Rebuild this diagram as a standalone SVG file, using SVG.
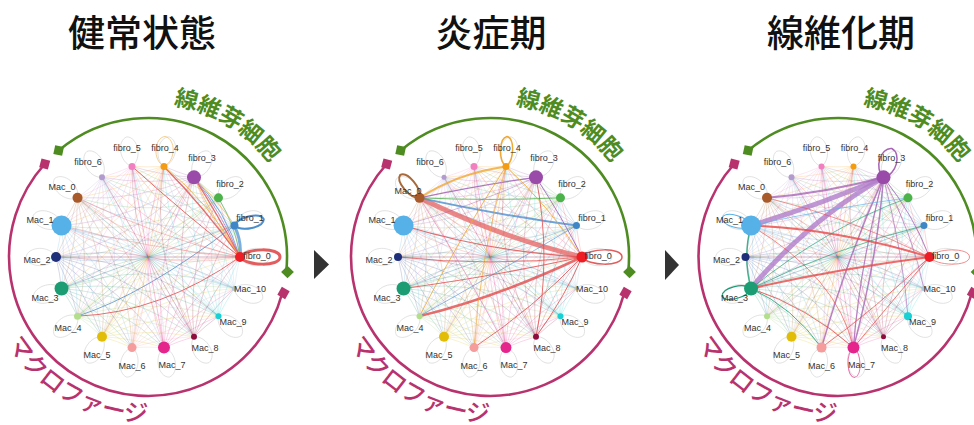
<svg xmlns="http://www.w3.org/2000/svg" xmlns:xlink="http://www.w3.org/1999/xlink" width="974" height="425" viewBox="0 0 974 425">
<style>
.title{font-family:"Noto Sans CJK JP","Noto Sans",sans-serif;font-size:37px;font-weight:500;fill:#111;text-anchor:middle}
.lbl{font-family:"Liberation Sans",Arial,sans-serif;font-size:9px;fill:#333;text-anchor:middle}
.grp-g{font-family:"Noto Sans CJK JP",sans-serif;font-size:23px;font-weight:700;fill:#4e8c22}
.grp-m{font-family:"Noto Sans CJK JP",sans-serif;font-size:24px;font-weight:500;fill:#b8336e}
.arc-g{fill:none;stroke:#4e8c22;stroke-width:2.6}
.arc-m{fill:none;stroke:#b8336e;stroke-width:2.6}
.floop{fill:none;stroke:#d2d2d2;stroke-width:0.6}
.hl{fill:none;stroke-linecap:round}
.hloop{fill:none}
</style>
<defs>
<g id="fan" fill="none" stroke-width="0.7" stroke-opacity="0.26">
<path d="M92,0 A260,260 0 0 1 86.45,-31.47"/>
<path d="M92,0 A260,260 0 0 1 70.48,-59.14"/>
<path d="M92,0 A260,260 0 0 1 46,-79.67"/>
<path d="M92,0 A260,260 0 0 1 15.98,-90.6"/>
<path d="M92,0 A260,260 0 0 1 -15.98,-90.6"/>
<path d="M92,0 A260,260 0 0 1 -46,-79.67"/>
<path d="M92,0 A260,260 0 0 1 -70.48,-59.14"/>
<path d="M92,0 A260,260 0 0 1 -86.45,-31.47"/>
<path d="M92,0 L-92,0"/>
</g>
<path id="loopS" d="M92,0 C98,-12 120,-11 122,0 C120,11 98,12 92,0"/>
<path id="loopN" d="M92,0 C98,-8 120,-8 122,0 C120,8 98,8 92,0"/>
<path id="loopB" d="M92,0 C98,-9 132,-10 132,0 C132,10 98,9 92,0"/>
<rect id="sq" x="-4.5" y="-4.5" width="9" height="9"/>
<path id="tp-g" d="M25.4,-151.9 A154,154 0 0 1 133.4,-77"/>
<path id="tp-m" d="M-140.7,86.2 A165,165 0 0 0 82.5,142.9"/>
<g id="faint-loops" class="floop">
<use href="#loopS"/><use href="#loopS" transform="rotate(-20)"/><use href="#loopS" transform="rotate(-40)"/><use href="#loopS" transform="rotate(-60)"/><use href="#loopS" transform="rotate(-80)"/><use href="#loopS" transform="rotate(-100)"/><use href="#loopS" transform="rotate(-120)"/><use href="#loopS" transform="rotate(-140)"/><use href="#loopS" transform="rotate(-160)"/><use href="#loopS" transform="rotate(-180)"/><use href="#loopS" transform="rotate(-200)"/><use href="#loopS" transform="rotate(-220)"/><use href="#loopS" transform="rotate(-240)"/><use href="#loopS" transform="rotate(-260)"/><use href="#loopS" transform="rotate(-280)"/><use href="#loopS" transform="rotate(-300)"/><use href="#loopS" transform="rotate(-320)"/><use href="#loopS" transform="rotate(-340)"/>
</g>
<g id="all-fans">
<use href="#fan" stroke="#ee1c25"/>
<use href="#fan" transform="rotate(-20)" stroke="#3f86c6"/>
<use href="#fan" transform="rotate(-40)" stroke="#4cb24a"/>
<use href="#fan" transform="rotate(-60)" stroke="#9a4aa8"/>
<use href="#fan" transform="rotate(-80)" stroke="#f39b12"/>
<use href="#fan" transform="rotate(-100)" stroke="#f27fc0"/>
<use href="#fan" transform="rotate(-120)" stroke="#b39bd0"/>
<use href="#fan" transform="rotate(-140)" stroke="#a85a2a"/>
<use href="#fan" transform="rotate(-160)" stroke="#56b1e8"/>
<use href="#fan" transform="rotate(-180)" stroke="#1f2e78"/>
<use href="#fan" transform="rotate(-200)" stroke="#1c9c72"/>
<use href="#fan" transform="rotate(-220)" stroke="#9acb70"/>
<use href="#fan" transform="rotate(-240)" stroke="#e2bd07"/>
<use href="#fan" transform="rotate(-260)" stroke="#f59c9c"/>
<use href="#fan" transform="rotate(-280)" stroke="#e5258c"/>
<use href="#fan" transform="rotate(-300)" stroke="#8e0b3e"/>
<use href="#fan" transform="rotate(-320)" stroke="#19d0d4"/>
<use href="#fan" transform="rotate(-340)" stroke="#8fb8d8"/>
</g>
<g id="groups">
<path class="arc-g" d="M-89.35,-106.48 A139,139 0 0 1 138.24,14.53"/>
<use href="#sq" fill="#4e8c22" transform="translate(-89.35,-106.48) rotate(12)"/>
<use href="#sq" fill="#4e8c22" transform="translate(139.5,15) rotate(45)"/>
<path class="arc-m" d="M-103.3,-93 A139,139 0 1 0 134.3,36"/>
<use href="#sq" fill="#b8336e" transform="translate(-103.3,-93) rotate(15)"/>
<use href="#sq" fill="#b8336e" transform="translate(135.5,36) rotate(30)"/>
<text class="grp-g"><textPath href="#tp-g">線維芽細胞</textPath></text>
<text class="grp-m"><textPath href="#tp-m">マクロファージ</textPath></text>
</g>
</defs>

<g id="titles">
<text class="title" x="142" y="47">健常状態</text>
<text class="title" x="491" y="47">炎症期</text>
<text class="title" x="841" y="47">線維化期</text>
</g>

<g id="arrows" fill="#333">
<polygon points="314,250 329,264.5 314,279"/>
<polygon points="665,250 679,265 665,280"/>
</g>

<!-- Panel 1 -->
<g id="panel1" transform="translate(148,257)">
<g id="p1-connectors">
<use href="#all-fans"/>
<use href="#faint-loops"/>
<g class="hl" stroke-opacity="0.8">
<path d="M86.45,-31.47 Q94,-15 92,0" stroke="#5b9bd5" stroke-width="3"/>
<path d="M15.98,-90.6 Q56,-50 92,0" stroke="#e24b4b" stroke-width="1.4"/>
<path d="M15.98,-90.6 Q62,-54 92,0" stroke="#f3a93a" stroke-width="1"/>
<path d="M46,-79.67 Q70,-42 92,0" stroke="#e24b4b" stroke-width="1.2"/>
<path d="M46,-79.67 Q78,-46 92,0" stroke="#5b9bd5" stroke-width="1"/>
<path d="M46,-79.67 Q66,-36 92,0" stroke="#f3a93a" stroke-width="0.8"/>
<path d="M46,-79.67 Q74,-44 92,0" stroke="#a765b4" stroke-width="0.8"/>
<path d="M-15.98,-90.6 Q40,-40 92,0" stroke="#e24b4b" stroke-width="1"/>
<path d="M70.48,-59.14 Q88,-30 92,0" stroke="#4cb24a" stroke-width="0.8"/>
<path d="M46,-79.67 Q72,-54 86.45,-31.47" stroke="#f3a93a" stroke-width="0.8"/>
<path d="M-70.48,59.14 Q-4,38 86.45,-31.47" stroke="#5b8fc8" stroke-width="1"/>
<path d="M-70.48,59.14 Q13,56 92,0" stroke="#e24b4b" stroke-width="1"/>
<path d="M-70.48,-59.14 Q10,-20 92,0" stroke="#e87070" stroke-width="0.8" stroke-opacity="0.5"/>
<path d="M-86.45,-31.47 Q0,-8 92,0" stroke="#e87070" stroke-width="0.7" stroke-opacity="0.5"/>
<path d="M-92,0 Q0,6 92,0" stroke="#e87070" stroke-width="0.6" stroke-opacity="0.4"/>
</g>
<use href="#loopB" class="hloop" stroke="#e25d5d" stroke-width="3"/>
<use href="#loopN" class="hloop" stroke="#4a8fd0" stroke-width="2" transform="rotate(-20) rotate(8,92,0)"/>
<use href="#loopS" class="hloop" stroke="#f3c47a" stroke-width="0.8" transform="rotate(-80) rotate(-8,92,0)"/>
</g>
<g id="p1-fibro_0"><circle cx="92" cy="0" r="5" fill="#ee1c25"/><text class="lbl" x="109" y="2">fibro_0</text></g>
<g id="p1-fibro_1"><circle cx="86.45" cy="-31.47" r="4" fill="#3f86c6"/><text class="lbl" x="102" y="-36">fibro_1</text></g>
<g id="p1-fibro_2"><circle cx="70.48" cy="-59.14" r="4.5" fill="#4cb24a"/><text class="lbl" x="82" y="-70">fibro_2</text></g>
<g id="p1-fibro_3"><circle cx="46" cy="-79.67" r="7" fill="#9a4aa8"/><text class="lbl" x="54" y="-96">fibro_3</text></g>
<g id="p1-fibro_4"><circle cx="15.98" cy="-90.6" r="3.5" fill="#f39b12"/><text class="lbl" x="17" y="-106">fibro_4</text></g>
<g id="p1-fibro_5"><circle cx="-15.98" cy="-90.6" r="3.5" fill="#f27fc0"/><text class="lbl" x="-21" y="-106">fibro_5</text></g>
<g id="p1-fibro_6"><circle cx="-46" cy="-79.67" r="3" fill="#b39bd0"/><text class="lbl" x="-60" y="-92">fibro_6</text></g>
<g id="p1-Mac_0"><circle cx="-70.48" cy="-59.14" r="5" fill="#a85a2a"/><text class="lbl" x="-86" y="-67">Mac_0</text></g>
<g id="p1-Mac_1"><circle cx="-86.45" cy="-31.47" r="10" fill="#56b1e8"/><text class="lbl" x="-108" y="-34">Mac_1</text></g>
<g id="p1-Mac_2"><circle cx="-92" cy="0" r="5" fill="#1f2e78"/><text class="lbl" x="-111" y="6">Mac_2</text></g>
<g id="p1-Mac_3"><circle cx="-86.45" cy="31.47" r="7" fill="#1c9c72"/><text class="lbl" x="-103" y="44">Mac_3</text></g>
<g id="p1-Mac_4"><circle cx="-70.48" cy="59.14" r="3.5" fill="#b3df8c"/><text class="lbl" x="-80" y="74">Mac_4</text></g>
<g id="p1-Mac_5"><circle cx="-46" cy="79.67" r="5" fill="#e2bd07"/><text class="lbl" x="-51" y="101">Mac_5</text></g>
<g id="p1-Mac_6"><circle cx="-15.98" cy="90.6" r="4.5" fill="#f59c9c"/><text class="lbl" x="-16" y="112">Mac_6</text></g>
<g id="p1-Mac_7"><circle cx="15.98" cy="90.6" r="6" fill="#e5258c"/><text class="lbl" x="24" y="111">Mac_7</text></g>
<g id="p1-Mac_8"><circle cx="46" cy="79.67" r="3" fill="#8e0b3e"/><text class="lbl" x="57" y="94">Mac_8</text></g>
<g id="p1-Mac_9"><circle cx="70.48" cy="59.14" r="3" fill="#19d0d4"/><text class="lbl" x="85" y="68">Mac_9</text></g>
<g id="p1-Mac_10"><circle cx="86.45" cy="31.47" r="2.5" fill="#a7c8e0"/><text class="lbl" x="102" y="35">Mac_10</text></g>
<use href="#groups"/>
</g>

<!-- Panel 2 -->
<g id="panel2" transform="translate(490,257)">
<g id="p2-connectors">
<use href="#all-fans"/>
<use href="#faint-loops"/>
<g class="hl" stroke-opacity="0.8">
<path d="M-70.48,-59.14 Q9,-20 92,0" stroke="#e66a6a" stroke-width="5"/>
<path d="M-70.48,-59.14 Q8,-42 86.45,-31.47" stroke="#4f8fcf" stroke-width="2"/>
<path d="M-70.48,-59.14 Q-32,-84 15.98,-90.6" stroke="#f0a830" stroke-width="2"/>
<path d="M-70.48,-59.14 Q-10,-72 46,-79.67" stroke="#9a5ab0" stroke-width="1.2"/>
<path d="M-70.48,-59.14 Q0,-56 70.48,-59.14" stroke="#4cb24a" stroke-width="1"/>
<path d="M-70.48,59.14 Q8,40 92,0" stroke="#e24b4b" stroke-width="2.5"/>
<path d="M-70.48,59.14 Q-30,-20 15.98,-90.6" stroke="#f0a830" stroke-width="1"/>
<path d="M15.98,-90.6 Q-10,0 -15.98,90.6" stroke="#f0a830" stroke-width="0.8"/>
<path d="M-86.45,-31.47 Q0,-5 92,0" stroke="#e24b4b" stroke-width="1.2"/>
<path d="M-92,0 Q0,10 92,0" stroke="#e24b4b" stroke-width="0.9"/>
<path d="M-86.45,31.47 Q0,20 92,0" stroke="#e24b4b" stroke-width="1.2"/>
<path d="M-15.98,90.6 Q45,50 92,0" stroke="#e24b4b" stroke-width="1"/>
<path d="M46,79.67 Q75,40 92,0" stroke="#e24b4b" stroke-width="1"/>
<path d="M46,-79.67 Q62,0 46,79.67" stroke="#e24b4b" stroke-width="1"/>
<path d="M15.98,-90.6 Q60,-50 92,0" stroke="#f0a830" stroke-width="1"/>
<path d="M46,-79.67 Q72,-40 92,0" stroke="#9a5ab0" stroke-width="1"/>
<path d="M-70.48,-59.14 Q-20,20 15.98,90.6" stroke="#e877b0" stroke-width="0.8"/>
<path d="M-70.48,59.14 Q0,20 86.45,-31.47" stroke="#5b8fc8" stroke-width="0.8"/>
<path d="M-86.45,-31.47 Q-20,-50 46,-79.67" stroke="#9a5ab0" stroke-width="0.7" stroke-opacity="0.6"/>
</g>
<use href="#loopB" class="hloop" stroke="#e25d5d" stroke-width="1.5"/>
<use href="#loopN" class="hloop" stroke="#a86a3a" stroke-width="2" transform="rotate(-140) rotate(10,92,0)"/>
<use href="#loopN" class="hloop" stroke="#f0a830" stroke-width="1.5" transform="rotate(-80) rotate(-8,92,0)"/>
</g>
<g id="p2-fibro_0"><circle cx="92" cy="0" r="5.5" fill="#ee1c25"/><text class="lbl" x="108" y="2">fibro_0</text></g>
<g id="p2-fibro_1"><circle cx="86.45" cy="-31.47" r="3.5" fill="#3f86c6"/><text class="lbl" x="102" y="-36">fibro_1</text></g>
<g id="p2-fibro_2"><circle cx="70.48" cy="-59.14" r="4.5" fill="#4cb24a"/><text class="lbl" x="82" y="-70">fibro_2</text></g>
<g id="p2-fibro_3"><circle cx="46" cy="-79.67" r="7" fill="#9a4aa8"/><text class="lbl" x="54" y="-96">fibro_3</text></g>
<g id="p2-fibro_4"><circle cx="15.98" cy="-90.6" r="3.5" fill="#f39b12"/><text class="lbl" x="17" y="-106">fibro_4</text></g>
<g id="p2-fibro_5"><circle cx="-15.98" cy="-90.6" r="3.5" fill="#f27fc0"/><text class="lbl" x="-21" y="-106">fibro_5</text></g>
<g id="p2-fibro_6"><circle cx="-46" cy="-79.67" r="2.5" fill="#b39bd0"/><text class="lbl" x="-60" y="-92">fibro_6</text></g>
<g id="p2-Mac_0"><circle cx="-70.48" cy="-59.14" r="5" fill="#a85a2a"/><text class="lbl" x="-82" y="-63">Mac_0</text></g>
<g id="p2-Mac_1"><circle cx="-86.45" cy="-31.47" r="10" fill="#56b1e8"/><text class="lbl" x="-108" y="-34">Mac_1</text></g>
<g id="p2-Mac_2"><circle cx="-92" cy="0" r="4" fill="#1f2e78"/><text class="lbl" x="-111" y="6">Mac_2</text></g>
<g id="p2-Mac_3"><circle cx="-86.45" cy="31.47" r="7" fill="#1c9c72"/><text class="lbl" x="-103" y="44">Mac_3</text></g>
<g id="p2-Mac_4"><circle cx="-70.48" cy="59.14" r="3" fill="#b3df8c"/><text class="lbl" x="-80" y="74">Mac_4</text></g>
<g id="p2-Mac_5"><circle cx="-46" cy="79.67" r="5" fill="#e2bd07"/><text class="lbl" x="-51" y="101">Mac_5</text></g>
<g id="p2-Mac_6"><circle cx="-15.98" cy="90.6" r="4.5" fill="#f59c9c"/><text class="lbl" x="-16" y="112">Mac_6</text></g>
<g id="p2-Mac_7"><circle cx="15.98" cy="90.6" r="5.5" fill="#e5258c"/><text class="lbl" x="24" y="111">Mac_7</text></g>
<g id="p2-Mac_8"><circle cx="46" cy="79.67" r="3" fill="#8e0b3e"/><text class="lbl" x="57" y="94">Mac_8</text></g>
<g id="p2-Mac_9"><circle cx="70.48" cy="59.14" r="3" fill="#19d0d4"/><text class="lbl" x="85" y="68">Mac_9</text></g>
<g id="p2-Mac_10"><circle cx="86.45" cy="31.47" r="2" fill="#a7c8e0"/><text class="lbl" x="102" y="35">Mac_10</text></g>
<use href="#groups"/>
</g>

<!-- Panel 3 -->
<g id="panel3" transform="translate(837.5,257)">
<g id="p3-connectors">
<use href="#all-fans"/>
<use href="#faint-loops"/>
<g class="hl" stroke-opacity="0.8">
<path d="M46,-79.67 Q-18,-52 -86.45,-31.47" stroke="#b07dc9" stroke-width="5"/>
<path d="M46,-79.67 Q-30,-36 -86.45,31.47" stroke="#b07dc9" stroke-width="5"/>
<path d="M46,-79.67 Q-12,-64 -70.48,-59.14" stroke="#a765b4" stroke-width="2"/>
<path d="M46,-79.67 Q40,0 15.98,90.6" stroke="#a765b4" stroke-width="1.5"/>
<path d="M46,-79.67 Q22,10 15.98,90.6" stroke="#a765b4" stroke-width="1.2"/>
<path d="M46,-79.67 Q10,0 -15.98,90.6" stroke="#a765b4" stroke-width="1.5"/>
<path d="M46,-79.67 Q66,0 70.48,59.14" stroke="#a765b4" stroke-width="0.8"/>
<path d="M46,-79.67 Q76,-20 86.45,31.47" stroke="#a765b4" stroke-width="0.8"/>
<path d="M46,-79.67 Q76,-42 92,0" stroke="#a765b4" stroke-width="1"/>
<path d="M-86.45,-31.47 Q0,-28 92,0" stroke="#e84848" stroke-width="2"/>
<path d="M-86.45,31.47 Q0,12 92,0" stroke="#e84848" stroke-width="2"/>
<path d="M-86.45,31.47 Q-45,50 -15.98,90.6" stroke="#1c9c72" stroke-width="1"/>
<path d="M-86.45,31.47 Q-30,50 15.98,90.6" stroke="#e84848" stroke-width="1"/>
<path d="M-86.45,31.47 Q0,-10 86.45,-31.47" stroke="#1c9c72" stroke-width="0.8"/>
<path d="M-86.45,31.47 Q-10,-30 70.48,-59.14" stroke="#1c9c72" stroke-width="0.8"/>
<path d="M-86.45,-31.47 Q0,20 15.98,90.6" stroke="#e84848" stroke-width="0.8"/>
<path d="M92,0 Q40,50 -15.98,90.6" stroke="#e84848" stroke-width="0.9"/>
<path d="M92,0 Q50,50 15.98,90.6" stroke="#e84848" stroke-width="0.9"/>
<path d="M-86.45,-31.47 Q-95,0 -86.45,31.47" stroke="#1c9c72" stroke-width="1.5"/>
<path d="M-86.45,-31.47 Q0,-50 70.48,-59.14" stroke="#56b1e8" stroke-width="0.8"/>
<path d="M92,0 Q10,-40 -70.48,-59.14" stroke="#e84848" stroke-width="0.7"/>
</g>
<use href="#loopS" class="hloop" stroke="#a765b4" stroke-width="1.5" transform="rotate(-60) rotate(-14,92,0)"/>
<use href="#loopN" class="hloop" stroke="#1c9c72" stroke-width="1.2" transform="rotate(-200) rotate(5,92,0)"/>
<use href="#loopN" class="hloop" stroke="#56b1e8" stroke-width="1" transform="rotate(-160) rotate(-5,92,0)"/>
<use href="#loopN" class="hloop" stroke="#e877b0" stroke-width="1" transform="rotate(-280) rotate(8,92,0)"/>
<use href="#loopB" class="hloop" stroke="#ee7070" stroke-width="0.8"/>
</g>
<g id="p3-fibro_0"><circle cx="92" cy="0" r="5" fill="#ee1c25"/><text class="lbl" x="108" y="2">fibro_0</text></g>
<g id="p3-fibro_1"><circle cx="86.45" cy="-31.47" r="3.5" fill="#3f86c6"/><text class="lbl" x="102" y="-36">fibro_1</text></g>
<g id="p3-fibro_2"><circle cx="70.48" cy="-59.14" r="4.5" fill="#4cb24a"/><text class="lbl" x="82" y="-70">fibro_2</text></g>
<g id="p3-fibro_3"><circle cx="46" cy="-79.67" r="7" fill="#9a4aa8"/><text class="lbl" x="54" y="-96">fibro_3</text></g>
<g id="p3-fibro_4"><circle cx="15.98" cy="-90.6" r="3" fill="#f39b12"/><text class="lbl" x="17" y="-106">fibro_4</text></g>
<g id="p3-fibro_5"><circle cx="-15.98" cy="-90.6" r="3" fill="#f27fc0"/><text class="lbl" x="-21" y="-106">fibro_5</text></g>
<g id="p3-fibro_6"><circle cx="-46" cy="-79.67" r="3" fill="#b39bd0"/><text class="lbl" x="-60" y="-92">fibro_6</text></g>
<g id="p3-Mac_0"><circle cx="-70.48" cy="-59.14" r="5" fill="#a85a2a"/><text class="lbl" x="-86" y="-67">Mac_0</text></g>
<g id="p3-Mac_1"><circle cx="-86.45" cy="-31.47" r="10" fill="#56b1e8"/><text class="lbl" x="-108" y="-34">Mac_1</text></g>
<g id="p3-Mac_2"><circle cx="-92" cy="0" r="4" fill="#1f2e78"/><text class="lbl" x="-111" y="6">Mac_2</text></g>
<g id="p3-Mac_3"><circle cx="-86.45" cy="31.47" r="7" fill="#1c9c72"/><text class="lbl" x="-103" y="44">Mac_3</text></g>
<g id="p3-Mac_4"><circle cx="-70.48" cy="59.14" r="3" fill="#b3df8c"/><text class="lbl" x="-80" y="74">Mac_4</text></g>
<g id="p3-Mac_5"><circle cx="-46" cy="79.67" r="5" fill="#e2bd07"/><text class="lbl" x="-51" y="101">Mac_5</text></g>
<g id="p3-Mac_6"><circle cx="-15.98" cy="90.6" r="5" fill="#f59c9c"/><text class="lbl" x="-16" y="112">Mac_6</text></g>
<g id="p3-Mac_7"><circle cx="15.98" cy="90.6" r="6" fill="#e5258c"/><text class="lbl" x="24" y="111">Mac_7</text></g>
<g id="p3-Mac_8"><circle cx="46" cy="79.67" r="2.5" fill="#8e0b3e"/><text class="lbl" x="57" y="94">Mac_8</text></g>
<g id="p3-Mac_9"><circle cx="70.48" cy="59.14" r="4" fill="#19d0d4"/><text class="lbl" x="85" y="68">Mac_9</text></g>
<g id="p3-Mac_10"><circle cx="86.45" cy="31.47" r="2.5" fill="#a7c8e0"/><text class="lbl" x="102" y="35">Mac_10</text></g>
<use href="#groups"/>
</g>
</svg>
